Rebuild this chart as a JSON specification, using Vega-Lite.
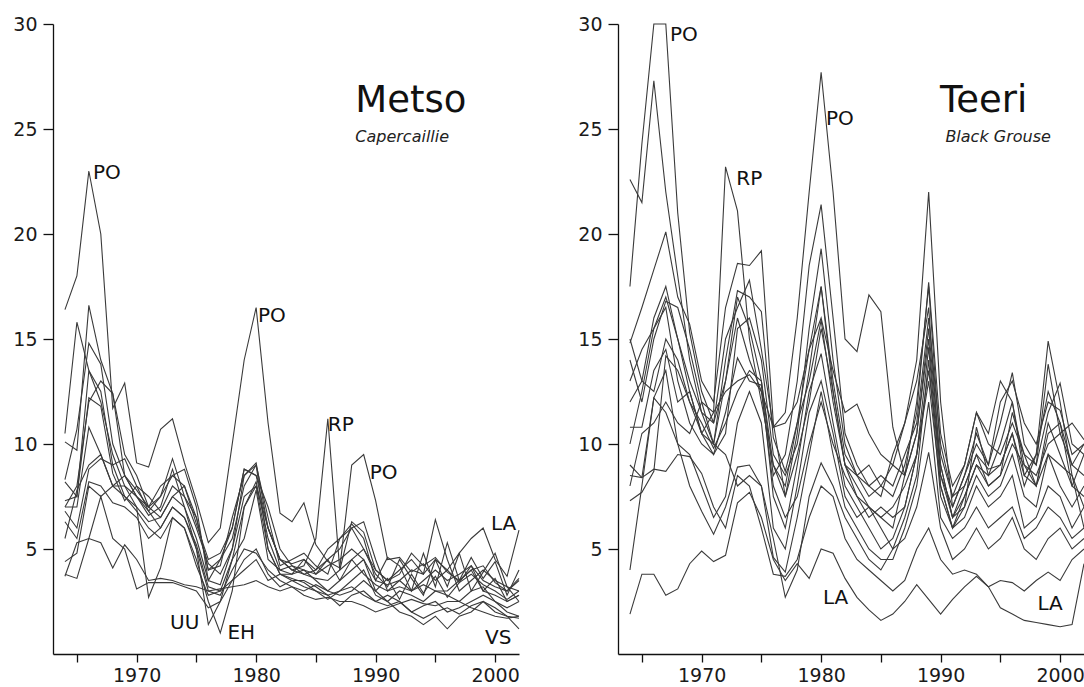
{
"$schema": "https://vega.github.io/schema/vega-lite/v6.json",
"background": "white",
"padding": {"left": 12, "top": 15, "right": 0, "bottom": 0},
"config": {
  "view": {"stroke": null},
  "concat": {"spacing": 55},
  "axis": {"grid": false, "title": null, "domainColor": "#111", "tickColor": "#111", "domainWidth": 1.3, "tickWidth": 1.3, "labelColor": "#1a1a1a", "labelFont": "DejaVu Sans", "labelFontSize": 19}
},
"datasets": {
"metso": [
{"s":"PO","t":1964,"v":16.4},{"s":"PO","t":1965,"v":18.0},{"s":"PO","t":1966,"v":23.0},{"s":"PO","t":1967,"v":20.0},{"s":"PO","t":1968,"v":11.7},{"s":"PO","t":1969,"v":12.9},{"s":"PO","t":1970,"v":9.1},{"s":"PO","t":1971,"v":8.9},{"s":"PO","t":1972,"v":10.7},{"s":"PO","t":1973,"v":11.2},{"s":"PO","t":1974,"v":9.1},{"s":"PO","t":1975,"v":7.3},{"s":"PO","t":1976,"v":5.3},{"s":"PO","t":1977,"v":6.0},{"s":"PO","t":1978,"v":10.0},{"s":"PO","t":1979,"v":14.0},{"s":"PO","t":1980,"v":16.5},{"s":"PO","t":1981,"v":11.0},{"s":"PO","t":1982,"v":6.7},{"s":"PO","t":1983,"v":6.3},{"s":"PO","t":1984,"v":7.2},{"s":"PO","t":1985,"v":5.2},{"s":"PO","t":1986,"v":4.4},{"s":"PO","t":1987,"v":4.1},{"s":"PO","t":1988,"v":9.0},{"s":"PO","t":1989,"v":9.5},{"s":"PO","t":1990,"v":7.3},{"s":"PO","t":1991,"v":4.5},{"s":"PO","t":1992,"v":4.6},{"s":"PO","t":1993,"v":3.9},{"s":"PO","t":1994,"v":4.3},{"s":"PO","t":1995,"v":3.5},{"s":"PO","t":1996,"v":4.0},{"s":"PO","t":1997,"v":3.4},{"s":"PO","t":1998,"v":3.8},{"s":"PO","t":1999,"v":3.3},{"s":"PO","t":2000,"v":3.0},{"s":"PO","t":2001,"v":2.6},{"s":"PO","t":2002,"v":3.0},
{"s":"RP","t":1964,"v":10.5},{"s":"RP","t":1965,"v":15.8},{"s":"RP","t":1966,"v":13.5},{"s":"RP","t":1967,"v":12.5},{"s":"RP","t":1968,"v":9.0},{"s":"RP","t":1969,"v":9.3},{"s":"RP","t":1970,"v":8.0},{"s":"RP","t":1971,"v":6.8},{"s":"RP","t":1972,"v":7.5},{"s":"RP","t":1973,"v":9.3},{"s":"RP","t":1974,"v":7.5},{"s":"RP","t":1975,"v":6.5},{"s":"RP","t":1976,"v":4.0},{"s":"RP","t":1977,"v":4.2},{"s":"RP","t":1978,"v":6.5},{"s":"RP","t":1979,"v":8.5},{"s":"RP","t":1980,"v":9.1},{"s":"RP","t":1981,"v":6.0},{"s":"RP","t":1982,"v":4.5},{"s":"RP","t":1983,"v":4.0},{"s":"RP","t":1984,"v":4.2},{"s":"RP","t":1985,"v":5.5},{"s":"RP","t":1986,"v":11.2},{"s":"RP","t":1987,"v":4.0},{"s":"RP","t":1988,"v":6.3},{"s":"RP","t":1989,"v":5.8},{"s":"RP","t":1990,"v":4.0},{"s":"RP","t":1991,"v":3.5},{"s":"RP","t":1992,"v":3.8},{"s":"RP","t":1993,"v":4.8},{"s":"RP","t":1994,"v":4.2},{"s":"RP","t":1995,"v":4.6},{"s":"RP","t":1996,"v":3.9},{"s":"RP","t":1997,"v":3.5},{"s":"RP","t":1998,"v":4.0},{"s":"RP","t":1999,"v":4.2},{"s":"RP","t":2000,"v":3.4},{"s":"RP","t":2001,"v":3.0},{"s":"RP","t":2002,"v":3.6},
{"s":"KA","t":1964,"v":10.1},{"s":"KA","t":1965,"v":9.7},{"s":"KA","t":1966,"v":16.6},{"s":"KA","t":1967,"v":14.0},{"s":"KA","t":1968,"v":12.4},{"s":"KA","t":1969,"v":9.5},{"s":"KA","t":1970,"v":8.5},{"s":"KA","t":1971,"v":7.0},{"s":"KA","t":1972,"v":8.0},{"s":"KA","t":1973,"v":8.5},{"s":"KA","t":1974,"v":8.0},{"s":"KA","t":1975,"v":6.2},{"s":"KA","t":1976,"v":4.5},{"s":"KA","t":1977,"v":4.8},{"s":"KA","t":1978,"v":6.0},{"s":"KA","t":1979,"v":8.8},{"s":"KA","t":1980,"v":8.5},{"s":"KA","t":1981,"v":7.0},{"s":"KA","t":1982,"v":5.0},{"s":"KA","t":1983,"v":4.2},{"s":"KA","t":1984,"v":4.0},{"s":"KA","t":1985,"v":3.8},{"s":"KA","t":1986,"v":4.5},{"s":"KA","t":1987,"v":5.0},{"s":"KA","t":1988,"v":6.0},{"s":"KA","t":1989,"v":6.3},{"s":"KA","t":1990,"v":4.5},{"s":"KA","t":1991,"v":3.0},{"s":"KA","t":1992,"v":3.5},{"s":"KA","t":1993,"v":4.0},{"s":"KA","t":1994,"v":3.8},{"s":"KA","t":1995,"v":6.4},{"s":"KA","t":1996,"v":4.5},{"s":"KA","t":1997,"v":3.0},{"s":"KA","t":1998,"v":3.5},{"s":"KA","t":1999,"v":4.0},{"s":"KA","t":2000,"v":3.5},{"s":"KA","t":2001,"v":3.2},{"s":"KA","t":2002,"v":2.5},
{"s":"KS","t":1964,"v":8.3},{"s":"KS","t":1965,"v":10.7},{"s":"KS","t":1966,"v":14.8},{"s":"KS","t":1967,"v":13.8},{"s":"KS","t":1968,"v":10.0},{"s":"KS","t":1969,"v":8.5},{"s":"KS","t":1970,"v":7.5},{"s":"KS","t":1971,"v":6.6},{"s":"KS","t":1972,"v":7.0},{"s":"KS","t":1973,"v":8.8},{"s":"KS","t":1974,"v":7.0},{"s":"KS","t":1975,"v":5.5},{"s":"KS","t":1976,"v":3.5},{"s":"KS","t":1977,"v":4.5},{"s":"KS","t":1978,"v":5.5},{"s":"KS","t":1979,"v":8.0},{"s":"KS","t":1980,"v":9.0},{"s":"KS","t":1981,"v":6.5},{"s":"KS","t":1982,"v":4.2},{"s":"KS","t":1983,"v":4.5},{"s":"KS","t":1984,"v":4.8},{"s":"KS","t":1985,"v":4.2},{"s":"KS","t":1986,"v":3.8},{"s":"KS","t":1987,"v":5.5},{"s":"KS","t":1988,"v":6.2},{"s":"KS","t":1989,"v":5.5},{"s":"KS","t":1990,"v":3.5},{"s":"KS","t":1991,"v":4.6},{"s":"KS","t":1992,"v":4.2},{"s":"KS","t":1993,"v":3.0},{"s":"KS","t":1994,"v":4.8},{"s":"KS","t":1995,"v":3.2},{"s":"KS","t":1996,"v":5.3},{"s":"KS","t":1997,"v":3.5},{"s":"KS","t":1998,"v":4.6},{"s":"KS","t":1999,"v":3.6},{"s":"KS","t":2000,"v":4.4},{"s":"KS","t":2001,"v":2.8},{"s":"KS","t":2002,"v":4.0},
{"s":"LA","t":1964,"v":7.3},{"s":"LA","t":1965,"v":7.5},{"s":"LA","t":1966,"v":12.2},{"s":"LA","t":1967,"v":11.8},{"s":"LA","t":1968,"v":8.6},{"s":"LA","t":1969,"v":7.3},{"s":"LA","t":1970,"v":8.0},{"s":"LA","t":1971,"v":7.5},{"s":"LA","t":1972,"v":6.8},{"s":"LA","t":1973,"v":8.0},{"s":"LA","t":1974,"v":7.5},{"s":"LA","t":1975,"v":6.0},{"s":"LA","t":1976,"v":4.3},{"s":"LA","t":1977,"v":3.8},{"s":"LA","t":1978,"v":5.0},{"s":"LA","t":1979,"v":7.5},{"s":"LA","t":1980,"v":8.0},{"s":"LA","t":1981,"v":6.0},{"s":"LA","t":1982,"v":4.5},{"s":"LA","t":1983,"v":4.0},{"s":"LA","t":1984,"v":3.8},{"s":"LA","t":1985,"v":4.0},{"s":"LA","t":1986,"v":4.5},{"s":"LA","t":1987,"v":3.5},{"s":"LA","t":1988,"v":4.5},{"s":"LA","t":1989,"v":5.0},{"s":"LA","t":1990,"v":4.0},{"s":"LA","t":1991,"v":3.5},{"s":"LA","t":1992,"v":4.0},{"s":"LA","t":1993,"v":4.5},{"s":"LA","t":1994,"v":3.8},{"s":"LA","t":1995,"v":4.5},{"s":"LA","t":1996,"v":4.0},{"s":"LA","t":1997,"v":4.8},{"s":"LA","t":1998,"v":5.5},{"s":"LA","t":1999,"v":6.0},{"s":"LA","t":2000,"v":4.5},{"s":"LA","t":2001,"v":3.7},{"s":"LA","t":2002,"v":5.9},
{"s":"UU","t":1964,"v":7.0},{"s":"UU","t":1965,"v":7.0},{"s":"UU","t":1966,"v":10.8},{"s":"UU","t":1967,"v":9.5},{"s":"UU","t":1968,"v":8.0},{"s":"UU","t":1969,"v":8.0},{"s":"UU","t":1970,"v":7.0},{"s":"UU","t":1971,"v":6.3},{"s":"UU","t":1972,"v":6.5},{"s":"UU","t":1973,"v":7.5},{"s":"UU","t":1974,"v":7.0},{"s":"UU","t":1975,"v":5.0},{"s":"UU","t":1976,"v":1.4},{"s":"UU","t":1977,"v":2.5},{"s":"UU","t":1978,"v":4.5},{"s":"UU","t":1979,"v":7.0},{"s":"UU","t":1980,"v":8.2},{"s":"UU","t":1981,"v":5.5},{"s":"UU","t":1982,"v":4.0},{"s":"UU","t":1983,"v":3.8},{"s":"UU","t":1984,"v":4.0},{"s":"UU","t":1985,"v":3.5},{"s":"UU","t":1986,"v":3.0},{"s":"UU","t":1987,"v":3.5},{"s":"UU","t":1988,"v":4.0},{"s":"UU","t":1989,"v":4.5},{"s":"UU","t":1990,"v":3.0},{"s":"UU","t":1991,"v":3.6},{"s":"UU","t":1992,"v":2.6},{"s":"UU","t":1993,"v":3.8},{"s":"UU","t":1994,"v":2.9},{"s":"UU","t":1995,"v":3.7},{"s":"UU","t":1996,"v":2.7},{"s":"UU","t":1997,"v":3.4},{"s":"UU","t":1998,"v":4.2},{"s":"UU","t":1999,"v":3.0},{"s":"UU","t":2000,"v":3.6},{"s":"UU","t":2001,"v":2.5},{"s":"UU","t":2002,"v":2.8},
{"s":"EH","t":1964,"v":6.8},{"s":"EH","t":1965,"v":6.0},{"s":"EH","t":1966,"v":8.8},{"s":"EH","t":1967,"v":9.3},{"s":"EH","t":1968,"v":9.0},{"s":"EH","t":1969,"v":7.5},{"s":"EH","t":1970,"v":6.8},{"s":"EH","t":1971,"v":6.0},{"s":"EH","t":1972,"v":5.5},{"s":"EH","t":1973,"v":6.5},{"s":"EH","t":1974,"v":6.0},{"s":"EH","t":1975,"v":4.5},{"s":"EH","t":1976,"v":2.5},{"s":"EH","t":1977,"v":1.0},{"s":"EH","t":1978,"v":3.0},{"s":"EH","t":1979,"v":7.0},{"s":"EH","t":1980,"v":8.0},{"s":"EH","t":1981,"v":5.0},{"s":"EH","t":1982,"v":3.8},{"s":"EH","t":1983,"v":3.5},{"s":"EH","t":1984,"v":3.2},{"s":"EH","t":1985,"v":3.0},{"s":"EH","t":1986,"v":2.8},{"s":"EH","t":1987,"v":3.0},{"s":"EH","t":1988,"v":3.5},{"s":"EH","t":1989,"v":4.0},{"s":"EH","t":1990,"v":2.8},{"s":"EH","t":1991,"v":2.5},{"s":"EH","t":1992,"v":3.0},{"s":"EH","t":1993,"v":2.8},{"s":"EH","t":1994,"v":2.5},{"s":"EH","t":1995,"v":3.0},{"s":"EH","t":1996,"v":2.8},{"s":"EH","t":1997,"v":2.5},{"s":"EH","t":1998,"v":3.0},{"s":"EH","t":1999,"v":3.2},{"s":"EH","t":2000,"v":2.5},{"s":"EH","t":2001,"v":2.2},{"s":"EH","t":2002,"v":2.5},
{"s":"VS","t":1964,"v":6.3},{"s":"VS","t":1965,"v":5.5},{"s":"VS","t":1966,"v":8.2},{"s":"VS","t":1967,"v":8.0},{"s":"VS","t":1968,"v":7.2},{"s":"VS","t":1969,"v":7.0},{"s":"VS","t":1970,"v":6.5},{"s":"VS","t":1971,"v":5.5},{"s":"VS","t":1972,"v":6.0},{"s":"VS","t":1973,"v":7.0},{"s":"VS","t":1974,"v":6.5},{"s":"VS","t":1975,"v":5.0},{"s":"VS","t":1976,"v":3.0},{"s":"VS","t":1977,"v":2.8},{"s":"VS","t":1978,"v":4.0},{"s":"VS","t":1979,"v":5.0},{"s":"VS","t":1980,"v":4.8},{"s":"VS","t":1981,"v":4.0},{"s":"VS","t":1982,"v":3.5},{"s":"VS","t":1983,"v":3.2},{"s":"VS","t":1984,"v":3.0},{"s":"VS","t":1985,"v":3.3},{"s":"VS","t":1986,"v":3.0},{"s":"VS","t":1987,"v":2.8},{"s":"VS","t":1988,"v":3.0},{"s":"VS","t":1989,"v":3.5},{"s":"VS","t":1990,"v":3.0},{"s":"VS","t":1991,"v":2.5},{"s":"VS","t":1992,"v":2.0},{"s":"VS","t":1993,"v":1.8},{"s":"VS","t":1994,"v":1.4},{"s":"VS","t":1995,"v":1.8},{"s":"VS","t":1996,"v":1.2},{"s":"VS","t":1997,"v":1.8},{"s":"VS","t":1998,"v":2.0},{"s":"VS","t":1999,"v":2.5},{"s":"VS","t":2000,"v":2.2},{"s":"VS","t":2001,"v":1.8},{"s":"VS","t":2002,"v":1.2},
{"s":"SA","t":1964,"v":4.4},{"s":"SA","t":1965,"v":4.8},{"s":"SA","t":1966,"v":8.0},{"s":"SA","t":1967,"v":7.5},{"s":"SA","t":1968,"v":8.0},{"s":"SA","t":1969,"v":7.5},{"s":"SA","t":1970,"v":7.0},{"s":"SA","t":1971,"v":2.7},{"s":"SA","t":1972,"v":4.1},{"s":"SA","t":1973,"v":6.5},{"s":"SA","t":1974,"v":6.0},{"s":"SA","t":1975,"v":4.2},{"s":"SA","t":1976,"v":2.8},{"s":"SA","t":1977,"v":3.0},{"s":"SA","t":1978,"v":3.5},{"s":"SA","t":1979,"v":4.5},{"s":"SA","t":1980,"v":5.0},{"s":"SA","t":1981,"v":3.8},{"s":"SA","t":1982,"v":3.2},{"s":"SA","t":1983,"v":3.5},{"s":"SA","t":1984,"v":3.5},{"s":"SA","t":1985,"v":3.2},{"s":"SA","t":1986,"v":2.8},{"s":"SA","t":1987,"v":2.3},{"s":"SA","t":1988,"v":2.8},{"s":"SA","t":1989,"v":3.0},{"s":"SA","t":1990,"v":2.5},{"s":"SA","t":1991,"v":2.8},{"s":"SA","t":1992,"v":2.5},{"s":"SA","t":1993,"v":2.0},{"s":"SA","t":1994,"v":2.3},{"s":"SA","t":1995,"v":2.5},{"s":"SA","t":1996,"v":2.0},{"s":"SA","t":1997,"v":2.2},{"s":"SA","t":1998,"v":2.5},{"s":"SA","t":1999,"v":2.8},{"s":"SA","t":2000,"v":2.5},{"s":"SA","t":2001,"v":2.0},{"s":"SA","t":2002,"v":1.8},
{"s":"KY","t":1964,"v":3.8},{"s":"KY","t":1965,"v":3.6},{"s":"KY","t":1966,"v":5.5},{"s":"KY","t":1967,"v":7.5},{"s":"KY","t":1968,"v":5.5},{"s":"KY","t":1969,"v":5.0},{"s":"KY","t":1970,"v":3.1},{"s":"KY","t":1971,"v":3.4},{"s":"KY","t":1972,"v":3.4},{"s":"KY","t":1973,"v":3.4},{"s":"KY","t":1974,"v":3.2},{"s":"KY","t":1975,"v":3.0},{"s":"KY","t":1976,"v":2.2},{"s":"KY","t":1977,"v":2.5},{"s":"KY","t":1978,"v":3.5},{"s":"KY","t":1979,"v":4.0},{"s":"KY","t":1980,"v":4.5},{"s":"KY","t":1981,"v":3.5},{"s":"KY","t":1982,"v":3.8},{"s":"KY","t":1983,"v":3.6},{"s":"KY","t":1984,"v":3.4},{"s":"KY","t":1985,"v":3.0},{"s":"KY","t":1986,"v":2.6},{"s":"KY","t":1987,"v":3.0},{"s":"KY","t":1988,"v":3.2},{"s":"KY","t":1989,"v":2.8},{"s":"KY","t":1990,"v":2.5},{"s":"KY","t":1991,"v":2.3},{"s":"KY","t":1992,"v":2.5},{"s":"KY","t":1993,"v":2.0},{"s":"KY","t":1994,"v":1.7},{"s":"KY","t":1995,"v":2.0},{"s":"KY","t":1996,"v":2.2},{"s":"KY","t":1997,"v":1.9},{"s":"KY","t":1998,"v":2.3},{"s":"KY","t":1999,"v":2.5},{"s":"KY","t":2000,"v":2.0},{"s":"KY","t":2001,"v":1.8},{"s":"KY","t":2002,"v":1.7},
{"s":"ES","t":1964,"v":3.7},{"s":"ES","t":1965,"v":5.3},{"s":"ES","t":1966,"v":5.5},{"s":"ES","t":1967,"v":5.3},{"s":"ES","t":1968,"v":4.1},{"s":"ES","t":1969,"v":5.2},{"s":"ES","t":1970,"v":4.5},{"s":"ES","t":1971,"v":3.5},{"s":"ES","t":1972,"v":3.6},{"s":"ES","t":1973,"v":3.5},{"s":"ES","t":1974,"v":3.3},{"s":"ES","t":1975,"v":3.2},{"s":"ES","t":1976,"v":3.0},{"s":"ES","t":1977,"v":3.1},{"s":"ES","t":1978,"v":3.2},{"s":"ES","t":1979,"v":3.3},{"s":"ES","t":1980,"v":3.5},{"s":"ES","t":1981,"v":3.2},{"s":"ES","t":1982,"v":3.0},{"s":"ES","t":1983,"v":3.2},{"s":"ES","t":1984,"v":2.8},{"s":"ES","t":1985,"v":2.6},{"s":"ES","t":1986,"v":2.7},{"s":"ES","t":1987,"v":2.5},{"s":"ES","t":1988,"v":2.5},{"s":"ES","t":1989,"v":2.3},{"s":"ES","t":1990,"v":2.0},{"s":"ES","t":1991,"v":2.2},{"s":"ES","t":1992,"v":2.4},{"s":"ES","t":1993,"v":2.6},{"s":"ES","t":1994,"v":2.4},{"s":"ES","t":1995,"v":2.3},{"s":"ES","t":1996,"v":2.5},{"s":"ES","t":1997,"v":2.5},{"s":"ES","t":1998,"v":2.2},{"s":"ES","t":1999,"v":2.0},{"s":"ES","t":2000,"v":1.8},{"s":"ES","t":2001,"v":1.7},{"s":"ES","t":2002,"v":1.8},
{"s":"PS","t":1964,"v":7.0},{"s":"PS","t":1965,"v":8.0},{"s":"PS","t":1966,"v":12.0},{"s":"PS","t":1967,"v":13.0},{"s":"PS","t":1968,"v":12.4},{"s":"PS","t":1969,"v":8.5},{"s":"PS","t":1970,"v":7.8},{"s":"PS","t":1971,"v":7.0},{"s":"PS","t":1972,"v":7.5},{"s":"PS","t":1973,"v":8.5},{"s":"PS","t":1974,"v":8.8},{"s":"PS","t":1975,"v":7.0},{"s":"PS","t":1976,"v":3.5},{"s":"PS","t":1977,"v":3.3},{"s":"PS","t":1978,"v":5.0},{"s":"PS","t":1979,"v":8.5},{"s":"PS","t":1980,"v":9.0},{"s":"PS","t":1981,"v":5.0},{"s":"PS","t":1982,"v":3.8},{"s":"PS","t":1983,"v":3.8},{"s":"PS","t":1984,"v":4.5},{"s":"PS","t":1985,"v":3.8},{"s":"PS","t":1986,"v":4.2},{"s":"PS","t":1987,"v":4.5},{"s":"PS","t":1988,"v":5.0},{"s":"PS","t":1989,"v":4.5},{"s":"PS","t":1990,"v":3.5},{"s":"PS","t":1991,"v":3.3},{"s":"PS","t":1992,"v":3.5},{"s":"PS","t":1993,"v":3.0},{"s":"PS","t":1994,"v":3.5},{"s":"PS","t":1995,"v":4.0},{"s":"PS","t":1996,"v":3.5},{"s":"PS","t":1997,"v":3.8},{"s":"PS","t":1998,"v":4.2},{"s":"PS","t":1999,"v":3.5},{"s":"PS","t":2000,"v":3.2},{"s":"PS","t":2001,"v":3.0},{"s":"PS","t":2002,"v":3.5},
{"s":"PK","t":1964,"v":8.2},{"s":"PK","t":1965,"v":7.5},{"s":"PK","t":1966,"v":13.5},{"s":"PK","t":1967,"v":12.0},{"s":"PK","t":1968,"v":9.5},{"s":"PK","t":1969,"v":8.0},{"s":"PK","t":1970,"v":7.5},{"s":"PK","t":1971,"v":7.0},{"s":"PK","t":1972,"v":6.5},{"s":"PK","t":1973,"v":7.5},{"s":"PK","t":1974,"v":8.0},{"s":"PK","t":1975,"v":6.5},{"s":"PK","t":1976,"v":4.0},{"s":"PK","t":1977,"v":4.5},{"s":"PK","t":1978,"v":6.0},{"s":"PK","t":1979,"v":8.8},{"s":"PK","t":1980,"v":8.5},{"s":"PK","t":1981,"v":6.0},{"s":"PK","t":1982,"v":4.5},{"s":"PK","t":1983,"v":4.3},{"s":"PK","t":1984,"v":4.5},{"s":"PK","t":1985,"v":4.0},{"s":"PK","t":1986,"v":5.0},{"s":"PK","t":1987,"v":5.5},{"s":"PK","t":1988,"v":6.0},{"s":"PK","t":1989,"v":5.0},{"s":"PK","t":1990,"v":3.8},{"s":"PK","t":1991,"v":3.2},{"s":"PK","t":1992,"v":4.5},{"s":"PK","t":1993,"v":3.6},{"s":"PK","t":1994,"v":2.8},{"s":"PK","t":1995,"v":4.5},{"s":"PK","t":1996,"v":3.2},{"s":"PK","t":1997,"v":4.8},{"s":"PK","t":1998,"v":3.0},{"s":"PK","t":1999,"v":3.9},{"s":"PK","t":2000,"v":4.8},{"s":"PK","t":2001,"v":3.2},{"s":"PK","t":2002,"v":3.0},
{"s":"PH","t":1964,"v":5.5},{"s":"PH","t":1965,"v":7.8},{"s":"PH","t":1966,"v":9.0},{"s":"PH","t":1967,"v":9.5},{"s":"PH","t":1968,"v":8.0},{"s":"PH","t":1969,"v":8.5},{"s":"PH","t":1970,"v":7.5},{"s":"PH","t":1971,"v":6.8},{"s":"PH","t":1972,"v":6.0},{"s":"PH","t":1973,"v":7.0},{"s":"PH","t":1974,"v":6.5},{"s":"PH","t":1975,"v":5.2},{"s":"PH","t":1976,"v":3.2},{"s":"PH","t":1977,"v":3.0},{"s":"PH","t":1978,"v":4.5},{"s":"PH","t":1979,"v":5.5},{"s":"PH","t":1980,"v":7.8},{"s":"PH","t":1981,"v":4.5},{"s":"PH","t":1982,"v":4.0},{"s":"PH","t":1983,"v":4.2},{"s":"PH","t":1984,"v":3.8},{"s":"PH","t":1985,"v":3.6},{"s":"PH","t":1986,"v":3.5},{"s":"PH","t":1987,"v":4.0},{"s":"PH","t":1988,"v":4.5},{"s":"PH","t":1989,"v":3.8},{"s":"PH","t":1990,"v":3.3},{"s":"PH","t":1991,"v":3.0},{"s":"PH","t":1992,"v":3.2},{"s":"PH","t":1993,"v":3.0},{"s":"PH","t":1994,"v":3.3},{"s":"PH","t":1995,"v":3.0},{"s":"PH","t":1996,"v":3.0},{"s":"PH","t":1997,"v":3.5},{"s":"PH","t":1998,"v":4.0},{"s":"PH","t":1999,"v":3.0},{"s":"PH","t":2000,"v":2.8},{"s":"PH","t":2001,"v":2.5},{"s":"PH","t":2002,"v":2.8}
],
"teeri": [
{"s":"PO","t":1964,"v":17.5},{"s":"PO","t":1965,"v":24.3},{"s":"PO","t":1966,"v":30},{"s":"PO","t":1967,"v":30},{"s":"PO","t":1968,"v":21.0},{"s":"PO","t":1969,"v":15.3},{"s":"PO","t":1970,"v":12.5},{"s":"PO","t":1971,"v":11.0},{"s":"PO","t":1972,"v":15.0},{"s":"PO","t":1973,"v":16.5},{"s":"PO","t":1974,"v":17.8},{"s":"PO","t":1975,"v":14.5},{"s":"PO","t":1976,"v":10.8},{"s":"PO","t":1977,"v":11.5},{"s":"PO","t":1978,"v":16.0},{"s":"PO","t":1979,"v":22.0},{"s":"PO","t":1980,"v":27.7},{"s":"PO","t":1981,"v":22.0},{"s":"PO","t":1982,"v":15.0},{"s":"PO","t":1983,"v":14.4},{"s":"PO","t":1984,"v":17.1},{"s":"PO","t":1985,"v":16.3},{"s":"PO","t":1986,"v":10.8},{"s":"PO","t":1987,"v":8.5},{"s":"PO","t":1988,"v":12.0},{"s":"PO","t":1989,"v":17.5},{"s":"PO","t":1990,"v":9.5},{"s":"PO","t":1991,"v":7.5},{"s":"PO","t":1992,"v":8.0},{"s":"PO","t":1993,"v":9.5},{"s":"PO","t":1994,"v":8.8},{"s":"PO","t":1995,"v":9.0},{"s":"PO","t":1996,"v":10.5},{"s":"PO","t":1997,"v":8.0},{"s":"PO","t":1998,"v":9.5},{"s":"PO","t":1999,"v":12.5},{"s":"PO","t":2000,"v":11.0},{"s":"PO","t":2001,"v":9.0},{"s":"PO","t":2002,"v":8.5},
{"s":"KA","t":1964,"v":22.6},{"s":"KA","t":1965,"v":21.5},{"s":"KA","t":1966,"v":27.3},{"s":"KA","t":1967,"v":22.0},{"s":"KA","t":1968,"v":18.0},{"s":"KA","t":1969,"v":14.0},{"s":"KA","t":1970,"v":11.5},{"s":"KA","t":1971,"v":10.0},{"s":"KA","t":1972,"v":13.0},{"s":"KA","t":1973,"v":17.0},{"s":"KA","t":1974,"v":15.5},{"s":"KA","t":1975,"v":13.0},{"s":"KA","t":1976,"v":8.5},{"s":"KA","t":1977,"v":9.5},{"s":"KA","t":1978,"v":13.0},{"s":"KA","t":1979,"v":18.5},{"s":"KA","t":1980,"v":21.4},{"s":"KA","t":1981,"v":16.0},{"s":"KA","t":1982,"v":10.5},{"s":"KA","t":1983,"v":9.0},{"s":"KA","t":1984,"v":8.0},{"s":"KA","t":1985,"v":7.5},{"s":"KA","t":1986,"v":9.5},{"s":"KA","t":1987,"v":11.0},{"s":"KA","t":1988,"v":14.0},{"s":"KA","t":1989,"v":22.0},{"s":"KA","t":1990,"v":12.0},{"s":"KA","t":1991,"v":7.0},{"s":"KA","t":1992,"v":8.5},{"s":"KA","t":1993,"v":10.5},{"s":"KA","t":1994,"v":9.0},{"s":"KA","t":1995,"v":11.0},{"s":"KA","t":1996,"v":13.4},{"s":"KA","t":1997,"v":10.0},{"s":"KA","t":1998,"v":9.0},{"s":"KA","t":1999,"v":11.5},{"s":"KA","t":2000,"v":12.9},{"s":"KA","t":2001,"v":10.0},{"s":"KA","t":2002,"v":9.5},
{"s":"RP","t":1964,"v":13.0},{"s":"RP","t":1965,"v":14.5},{"s":"RP","t":1966,"v":15.5},{"s":"RP","t":1967,"v":17.0},{"s":"RP","t":1968,"v":15.0},{"s":"RP","t":1969,"v":12.5},{"s":"RP","t":1970,"v":10.5},{"s":"RP","t":1971,"v":11.5},{"s":"RP","t":1972,"v":23.2},{"s":"RP","t":1973,"v":21.1},{"s":"RP","t":1974,"v":15.0},{"s":"RP","t":1975,"v":12.0},{"s":"RP","t":1976,"v":9.0},{"s":"RP","t":1977,"v":8.0},{"s":"RP","t":1978,"v":11.0},{"s":"RP","t":1979,"v":14.5},{"s":"RP","t":1980,"v":17.5},{"s":"RP","t":1981,"v":12.5},{"s":"RP","t":1982,"v":9.0},{"s":"RP","t":1983,"v":8.5},{"s":"RP","t":1984,"v":7.5},{"s":"RP","t":1985,"v":8.0},{"s":"RP","t":1986,"v":9.0},{"s":"RP","t":1987,"v":11.0},{"s":"RP","t":1988,"v":13.0},{"s":"RP","t":1989,"v":16.5},{"s":"RP","t":1990,"v":8.5},{"s":"RP","t":1991,"v":6.5},{"s":"RP","t":1992,"v":8.0},{"s":"RP","t":1993,"v":9.5},{"s":"RP","t":1994,"v":8.0},{"s":"RP","t":1995,"v":8.5},{"s":"RP","t":1996,"v":10.0},{"s":"RP","t":1997,"v":9.0},{"s":"RP","t":1998,"v":8.0},{"s":"RP","t":1999,"v":10.5},{"s":"RP","t":2000,"v":11.0},{"s":"RP","t":2001,"v":8.0},{"s":"RP","t":2002,"v":7.5},
{"s":"KS","t":1964,"v":14.8},{"s":"KS","t":1965,"v":16.5},{"s":"KS","t":1966,"v":18.3},{"s":"KS","t":1967,"v":20.1},{"s":"KS","t":1968,"v":17.0},{"s":"KS","t":1969,"v":15.7},{"s":"KS","t":1970,"v":13.0},{"s":"KS","t":1971,"v":12.0},{"s":"KS","t":1972,"v":16.5},{"s":"KS","t":1973,"v":18.6},{"s":"KS","t":1974,"v":18.5},{"s":"KS","t":1975,"v":19.2},{"s":"KS","t":1976,"v":11.0},{"s":"KS","t":1977,"v":7.5},{"s":"KS","t":1978,"v":10.5},{"s":"KS","t":1979,"v":15.5},{"s":"KS","t":1980,"v":19.3},{"s":"KS","t":1981,"v":14.0},{"s":"KS","t":1982,"v":10.0},{"s":"KS","t":1983,"v":8.5},{"s":"KS","t":1984,"v":9.0},{"s":"KS","t":1985,"v":8.0},{"s":"KS","t":1986,"v":7.5},{"s":"KS","t":1987,"v":9.0},{"s":"KS","t":1988,"v":11.5},{"s":"KS","t":1989,"v":17.7},{"s":"KS","t":1990,"v":10.5},{"s":"KS","t":1991,"v":8.0},{"s":"KS","t":1992,"v":9.0},{"s":"KS","t":1993,"v":11.5},{"s":"KS","t":1994,"v":10.0},{"s":"KS","t":1995,"v":9.5},{"s":"KS","t":1996,"v":11.0},{"s":"KS","t":1997,"v":9.5},{"s":"KS","t":1998,"v":9.0},{"s":"KS","t":1999,"v":13.8},{"s":"KS","t":2000,"v":10.5},{"s":"KS","t":2001,"v":9.0},{"s":"KS","t":2002,"v":10.0},
{"s":"PS","t":1964,"v":14.0},{"s":"PS","t":1965,"v":12.0},{"s":"PS","t":1966,"v":15.0},{"s":"PS","t":1967,"v":16.8},{"s":"PS","t":1968,"v":16.5},{"s":"PS","t":1969,"v":14.5},{"s":"PS","t":1970,"v":12.0},{"s":"PS","t":1971,"v":10.0},{"s":"PS","t":1972,"v":14.0},{"s":"PS","t":1973,"v":17.3},{"s":"PS","t":1974,"v":17.0},{"s":"PS","t":1975,"v":16.3},{"s":"PS","t":1976,"v":10.3},{"s":"PS","t":1977,"v":8.7},{"s":"PS","t":1978,"v":11.0},{"s":"PS","t":1979,"v":13.0},{"s":"PS","t":1980,"v":15.9},{"s":"PS","t":1981,"v":12.0},{"s":"PS","t":1982,"v":9.0},{"s":"PS","t":1983,"v":8.0},{"s":"PS","t":1984,"v":7.0},{"s":"PS","t":1985,"v":6.5},{"s":"PS","t":1986,"v":6.0},{"s":"PS","t":1987,"v":8.5},{"s":"PS","t":1988,"v":10.5},{"s":"PS","t":1989,"v":15.5},{"s":"PS","t":1990,"v":9.0},{"s":"PS","t":1991,"v":6.5},{"s":"PS","t":1992,"v":7.5},{"s":"PS","t":1993,"v":9.0},{"s":"PS","t":1994,"v":8.5},{"s":"PS","t":1995,"v":10.0},{"s":"PS","t":1996,"v":12.0},{"s":"PS","t":1997,"v":8.5},{"s":"PS","t":1998,"v":8.0},{"s":"PS","t":1999,"v":11.0},{"s":"PS","t":2000,"v":9.5},{"s":"PS","t":2001,"v":8.0},{"s":"PS","t":2002,"v":9.5},
{"s":"PK","t":1964,"v":10.8},{"s":"PK","t":1965,"v":10.8},{"s":"PK","t":1966,"v":13.5},{"s":"PK","t":1967,"v":14.5},{"s":"PK","t":1968,"v":12.0},{"s":"PK","t":1969,"v":12.5},{"s":"PK","t":1970,"v":10.5},{"s":"PK","t":1971,"v":9.5},{"s":"PK","t":1972,"v":11.5},{"s":"PK","t":1973,"v":14.1},{"s":"PK","t":1974,"v":13.0},{"s":"PK","t":1975,"v":12.8},{"s":"PK","t":1976,"v":7.5},{"s":"PK","t":1977,"v":6.0},{"s":"PK","t":1978,"v":9.0},{"s":"PK","t":1979,"v":12.5},{"s":"PK","t":1980,"v":14.3},{"s":"PK","t":1981,"v":11.0},{"s":"PK","t":1982,"v":8.0},{"s":"PK","t":1983,"v":7.0},{"s":"PK","t":1984,"v":6.0},{"s":"PK","t":1985,"v":5.0},{"s":"PK","t":1986,"v":5.5},{"s":"PK","t":1987,"v":7.0},{"s":"PK","t":1988,"v":9.5},{"s":"PK","t":1989,"v":14.6},{"s":"PK","t":1990,"v":8.0},{"s":"PK","t":1991,"v":6.0},{"s":"PK","t":1992,"v":7.0},{"s":"PK","t":1993,"v":8.5},{"s":"PK","t":1994,"v":7.5},{"s":"PK","t":1995,"v":8.0},{"s":"PK","t":1996,"v":9.5},{"s":"PK","t":1997,"v":7.5},{"s":"PK","t":1998,"v":7.0},{"s":"PK","t":1999,"v":9.5},{"s":"PK","t":2000,"v":8.0},{"s":"PK","t":2001,"v":7.0},{"s":"PK","t":2002,"v":8.0},
{"s":"ES","t":1964,"v":8.5},{"s":"ES","t":1965,"v":8.4},{"s":"ES","t":1966,"v":12.2},{"s":"ES","t":1967,"v":11.5},{"s":"ES","t":1968,"v":10.0},{"s":"ES","t":1969,"v":9.5},{"s":"ES","t":1970,"v":8.0},{"s":"ES","t":1971,"v":6.5},{"s":"ES","t":1972,"v":7.5},{"s":"ES","t":1973,"v":11.0},{"s":"ES","t":1974,"v":12.5},{"s":"ES","t":1975,"v":11.0},{"s":"ES","t":1976,"v":6.0},{"s":"ES","t":1977,"v":5.0},{"s":"ES","t":1978,"v":8.0},{"s":"ES","t":1979,"v":11.5},{"s":"ES","t":1980,"v":13.0},{"s":"ES","t":1981,"v":10.5},{"s":"ES","t":1982,"v":7.5},{"s":"ES","t":1983,"v":6.5},{"s":"ES","t":1984,"v":7.0},{"s":"ES","t":1985,"v":6.0},{"s":"ES","t":1986,"v":5.0},{"s":"ES","t":1987,"v":6.5},{"s":"ES","t":1988,"v":8.5},{"s":"ES","t":1989,"v":14.0},{"s":"ES","t":1990,"v":7.5},{"s":"ES","t":1991,"v":6.0},{"s":"ES","t":1992,"v":6.5},{"s":"ES","t":1993,"v":8.0},{"s":"ES","t":1994,"v":7.0},{"s":"ES","t":1995,"v":7.5},{"s":"ES","t":1996,"v":8.5},{"s":"ES","t":1997,"v":6.0},{"s":"ES","t":1998,"v":6.5},{"s":"ES","t":1999,"v":8.0},{"s":"ES","t":2000,"v":7.5},{"s":"ES","t":2001,"v":6.0},{"s":"ES","t":2002,"v":7.0},
{"s":"SA","t":1964,"v":7.3},{"s":"SA","t":1965,"v":7.7},{"s":"SA","t":1966,"v":8.7},{"s":"SA","t":1967,"v":14.2},{"s":"SA","t":1968,"v":13.5},{"s":"SA","t":1969,"v":12.0},{"s":"SA","t":1970,"v":10.5},{"s":"SA","t":1971,"v":10.0},{"s":"SA","t":1972,"v":9.5},{"s":"SA","t":1973,"v":8.0},{"s":"SA","t":1974,"v":8.5},{"s":"SA","t":1975,"v":8.0},{"s":"SA","t":1976,"v":4.6},{"s":"SA","t":1977,"v":3.9},{"s":"SA","t":1978,"v":6.5},{"s":"SA","t":1979,"v":9.5},{"s":"SA","t":1980,"v":12.5},{"s":"SA","t":1981,"v":9.5},{"s":"SA","t":1982,"v":7.0},{"s":"SA","t":1983,"v":6.0},{"s":"SA","t":1984,"v":5.0},{"s":"SA","t":1985,"v":4.5},{"s":"SA","t":1986,"v":4.5},{"s":"SA","t":1987,"v":6.0},{"s":"SA","t":1988,"v":8.0},{"s":"SA","t":1989,"v":12.0},{"s":"SA","t":1990,"v":6.5},{"s":"SA","t":1991,"v":5.5},{"s":"SA","t":1992,"v":6.0},{"s":"SA","t":1993,"v":7.0},{"s":"SA","t":1994,"v":6.0},{"s":"SA","t":1995,"v":6.5},{"s":"SA","t":1996,"v":7.0},{"s":"SA","t":1997,"v":5.5},{"s":"SA","t":1998,"v":6.0},{"s":"SA","t":1999,"v":7.0},{"s":"SA","t":2000,"v":6.5},{"s":"SA","t":2001,"v":5.5},{"s":"SA","t":2002,"v":6.0},
{"s":"EH","t":1964,"v":4.0},{"s":"EH","t":1965,"v":8.0},{"s":"EH","t":1966,"v":12.2},{"s":"EH","t":1967,"v":13.5},{"s":"EH","t":1968,"v":10.0},{"s":"EH","t":1969,"v":8.0},{"s":"EH","t":1970,"v":6.8},{"s":"EH","t":1971,"v":5.7},{"s":"EH","t":1972,"v":7.0},{"s":"EH","t":1973,"v":8.9},{"s":"EH","t":1974,"v":9.0},{"s":"EH","t":1975,"v":8.0},{"s":"EH","t":1976,"v":5.5},{"s":"EH","t":1977,"v":2.7},{"s":"EH","t":1978,"v":4.0},{"s":"EH","t":1979,"v":7.5},{"s":"EH","t":1980,"v":9.1},{"s":"EH","t":1981,"v":8.0},{"s":"EH","t":1982,"v":6.5},{"s":"EH","t":1983,"v":5.5},{"s":"EH","t":1984,"v":4.5},{"s":"EH","t":1985,"v":4.0},{"s":"EH","t":1986,"v":5.0},{"s":"EH","t":1987,"v":5.5},{"s":"EH","t":1988,"v":7.0},{"s":"EH","t":1989,"v":9.6},{"s":"EH","t":1990,"v":6.0},{"s":"EH","t":1991,"v":4.5},{"s":"EH","t":1992,"v":5.0},{"s":"EH","t":1993,"v":6.0},{"s":"EH","t":1994,"v":5.0},{"s":"EH","t":1995,"v":5.5},{"s":"EH","t":1996,"v":6.5},{"s":"EH","t":1997,"v":5.0},{"s":"EH","t":1998,"v":4.5},{"s":"EH","t":1999,"v":5.5},{"s":"EH","t":2000,"v":6.0},{"s":"EH","t":2001,"v":5.0},{"s":"EH","t":2002,"v":5.5},
{"s":"LA","t":1964,"v":1.9},{"s":"LA","t":1965,"v":3.8},{"s":"LA","t":1966,"v":3.8},{"s":"LA","t":1967,"v":2.8},{"s":"LA","t":1968,"v":3.1},{"s":"LA","t":1969,"v":4.3},{"s":"LA","t":1970,"v":4.9},{"s":"LA","t":1971,"v":4.4},{"s":"LA","t":1972,"v":4.7},{"s":"LA","t":1973,"v":7.2},{"s":"LA","t":1974,"v":7.7},{"s":"LA","t":1975,"v":6.5},{"s":"LA","t":1976,"v":4.5},{"s":"LA","t":1977,"v":3.5},{"s":"LA","t":1978,"v":4.3},{"s":"LA","t":1979,"v":3.6},{"s":"LA","t":1980,"v":5.0},{"s":"LA","t":1981,"v":4.8},{"s":"LA","t":1982,"v":3.6},{"s":"LA","t":1983,"v":2.7},{"s":"LA","t":1984,"v":2.1},{"s":"LA","t":1985,"v":1.6},{"s":"LA","t":1986,"v":1.9},{"s":"LA","t":1987,"v":2.5},{"s":"LA","t":1988,"v":3.3},{"s":"LA","t":1989,"v":2.6},{"s":"LA","t":1990,"v":1.9},{"s":"LA","t":1991,"v":2.6},{"s":"LA","t":1992,"v":3.2},{"s":"LA","t":1993,"v":3.7},{"s":"LA","t":1994,"v":3.2},{"s":"LA","t":1995,"v":2.2},{"s":"LA","t":1996,"v":1.9},{"s":"LA","t":1997,"v":1.6},{"s":"LA","t":1998,"v":1.5},{"s":"LA","t":1999,"v":1.4},{"s":"LA","t":2000,"v":1.3},{"s":"LA","t":2001,"v":1.4},{"s":"LA","t":2002,"v":4.3},
{"s":"UU","t":1964,"v":9.0},{"s":"UU","t":1965,"v":8.4},{"s":"UU","t":1966,"v":8.8},{"s":"UU","t":1967,"v":8.7},{"s":"UU","t":1968,"v":9.5},{"s":"UU","t":1969,"v":9.4},{"s":"UU","t":1970,"v":8.6},{"s":"UU","t":1971,"v":7.0},{"s":"UU","t":1972,"v":6.0},{"s":"UU","t":1973,"v":8.5},{"s":"UU","t":1974,"v":8.0},{"s":"UU","t":1975,"v":6.0},{"s":"UU","t":1976,"v":3.8},{"s":"UU","t":1977,"v":3.7},{"s":"UU","t":1978,"v":4.5},{"s":"UU","t":1979,"v":6.5},{"s":"UU","t":1980,"v":8.0},{"s":"UU","t":1981,"v":7.5},{"s":"UU","t":1982,"v":5.5},{"s":"UU","t":1983,"v":4.5},{"s":"UU","t":1984,"v":4.0},{"s":"UU","t":1985,"v":3.5},{"s":"UU","t":1986,"v":3.0},{"s":"UU","t":1987,"v":3.5},{"s":"UU","t":1988,"v":5.0},{"s":"UU","t":1989,"v":6.0},{"s":"UU","t":1990,"v":4.5},{"s":"UU","t":1991,"v":3.8},{"s":"UU","t":1992,"v":4.0},{"s":"UU","t":1993,"v":3.8},{"s":"UU","t":1994,"v":3.2},{"s":"UU","t":1995,"v":3.5},{"s":"UU","t":1996,"v":3.4},{"s":"UU","t":1997,"v":3.0},{"s":"UU","t":1998,"v":3.5},{"s":"UU","t":1999,"v":3.9},{"s":"UU","t":2000,"v":3.5},{"s":"UU","t":2001,"v":4.5},{"s":"UU","t":2002,"v":5.0},
{"s":"EP","t":1964,"v":12.0},{"s":"EP","t":1965,"v":13.0},{"s":"EP","t":1966,"v":16.0},{"s":"EP","t":1967,"v":17.5},{"s":"EP","t":1968,"v":15.0},{"s":"EP","t":1969,"v":13.0},{"s":"EP","t":1970,"v":11.5},{"s":"EP","t":1971,"v":11.0},{"s":"EP","t":1972,"v":13.0},{"s":"EP","t":1973,"v":16.0},{"s":"EP","t":1974,"v":14.0},{"s":"EP","t":1975,"v":12.5},{"s":"EP","t":1976,"v":10.8},{"s":"EP","t":1977,"v":11.0},{"s":"EP","t":1978,"v":12.0},{"s":"EP","t":1979,"v":14.5},{"s":"EP","t":1980,"v":16.0},{"s":"EP","t":1981,"v":13.5},{"s":"EP","t":1982,"v":11.5},{"s":"EP","t":1983,"v":11.9},{"s":"EP","t":1984,"v":10.5},{"s":"EP","t":1985,"v":9.5},{"s":"EP","t":1986,"v":9.0},{"s":"EP","t":1987,"v":8.5},{"s":"EP","t":1988,"v":10.5},{"s":"EP","t":1989,"v":15.0},{"s":"EP","t":1990,"v":8.5},{"s":"EP","t":1991,"v":7.0},{"s":"EP","t":1992,"v":8.5},{"s":"EP","t":1993,"v":10.0},{"s":"EP","t":1994,"v":9.0},{"s":"EP","t":1995,"v":12.0},{"s":"EP","t":1996,"v":13.0},{"s":"EP","t":1997,"v":11.0},{"s":"EP","t":1998,"v":10.0},{"s":"EP","t":1999,"v":12.0},{"s":"EP","t":2000,"v":11.6},{"s":"EP","t":2001,"v":9.5},{"s":"EP","t":2002,"v":10.0},
{"s":"KY","t":1964,"v":15.0},{"s":"KY","t":1965,"v":13.0},{"s":"KY","t":1966,"v":12.5},{"s":"KY","t":1967,"v":15.0},{"s":"KY","t":1968,"v":14.0},{"s":"KY","t":1969,"v":12.0},{"s":"KY","t":1970,"v":11.0},{"s":"KY","t":1971,"v":9.8},{"s":"KY","t":1972,"v":11.0},{"s":"KY","t":1973,"v":12.5},{"s":"KY","t":1974,"v":13.5},{"s":"KY","t":1975,"v":13.0},{"s":"KY","t":1976,"v":9.0},{"s":"KY","t":1977,"v":7.5},{"s":"KY","t":1978,"v":9.5},{"s":"KY","t":1979,"v":12.0},{"s":"KY","t":1980,"v":15.5},{"s":"KY","t":1981,"v":12.5},{"s":"KY","t":1982,"v":9.0},{"s":"KY","t":1983,"v":7.5},{"s":"KY","t":1984,"v":7.0},{"s":"KY","t":1985,"v":6.5},{"s":"KY","t":1986,"v":7.0},{"s":"KY","t":1987,"v":8.0},{"s":"KY","t":1988,"v":9.5},{"s":"KY","t":1989,"v":13.5},{"s":"KY","t":1990,"v":9.0},{"s":"KY","t":1991,"v":6.5},{"s":"KY","t":1992,"v":7.0},{"s":"KY","t":1993,"v":10.8},{"s":"KY","t":1994,"v":8.5},{"s":"KY","t":1995,"v":9.0},{"s":"KY","t":1996,"v":10.5},{"s":"KY","t":1997,"v":8.5},{"s":"KY","t":1998,"v":9.5},{"s":"KY","t":1999,"v":14.9},{"s":"KY","t":2000,"v":12.0},{"s":"KY","t":2001,"v":8.5},{"s":"KY","t":2002,"v":7.0},
{"s":"PH","t":1964,"v":8.0},{"s":"PH","t":1965,"v":10.5},{"s":"PH","t":1966,"v":11.0},{"s":"PH","t":1967,"v":12.0},{"s":"PH","t":1968,"v":11.0},{"s":"PH","t":1969,"v":10.5},{"s":"PH","t":1970,"v":12.0},{"s":"PH","t":1971,"v":11.5},{"s":"PH","t":1972,"v":12.5},{"s":"PH","t":1973,"v":13.0},{"s":"PH","t":1974,"v":13.3},{"s":"PH","t":1975,"v":12.5},{"s":"PH","t":1976,"v":8.0},{"s":"PH","t":1977,"v":6.5},{"s":"PH","t":1978,"v":7.5},{"s":"PH","t":1979,"v":10.0},{"s":"PH","t":1980,"v":12.0},{"s":"PH","t":1981,"v":10.0},{"s":"PH","t":1982,"v":8.5},{"s":"PH","t":1983,"v":7.5},{"s":"PH","t":1984,"v":6.5},{"s":"PH","t":1985,"v":7.0},{"s":"PH","t":1986,"v":6.5},{"s":"PH","t":1987,"v":7.0},{"s":"PH","t":1988,"v":9.5},{"s":"PH","t":1989,"v":13.0},{"s":"PH","t":1990,"v":8.0},{"s":"PH","t":1991,"v":6.0},{"s":"PH","t":1992,"v":7.5},{"s":"PH","t":1993,"v":9.0},{"s":"PH","t":1994,"v":8.0},{"s":"PH","t":1995,"v":8.5},{"s":"PH","t":1996,"v":11.5},{"s":"PH","t":1997,"v":9.5},{"s":"PH","t":1998,"v":8.0},{"s":"PH","t":1999,"v":9.5},{"s":"PH","t":2000,"v":9.0},{"s":"PH","t":2001,"v":8.5},{"s":"PH","t":2002,"v":6.0},
{"s":"VS","t":1964,"v":10.0},{"s":"VS","t":1965,"v":12.5},{"s":"VS","t":1966,"v":15.5},{"s":"VS","t":1967,"v":16.5},{"s":"VS","t":1968,"v":13.0},{"s":"VS","t":1969,"v":11.0},{"s":"VS","t":1970,"v":10.0},{"s":"VS","t":1971,"v":9.5},{"s":"VS","t":1972,"v":10.5},{"s":"VS","t":1973,"v":15.5},{"s":"VS","t":1974,"v":16.0},{"s":"VS","t":1975,"v":14.0},{"s":"VS","t":1976,"v":9.5},{"s":"VS","t":1977,"v":8.5},{"s":"VS","t":1978,"v":10.0},{"s":"VS","t":1979,"v":13.5},{"s":"VS","t":1980,"v":17.5},{"s":"VS","t":1981,"v":13.0},{"s":"VS","t":1982,"v":9.5},{"s":"VS","t":1983,"v":8.5},{"s":"VS","t":1984,"v":8.0},{"s":"VS","t":1985,"v":8.5},{"s":"VS","t":1986,"v":8.0},{"s":"VS","t":1987,"v":9.5},{"s":"VS","t":1988,"v":11.0},{"s":"VS","t":1989,"v":16.0},{"s":"VS","t":1990,"v":10.0},{"s":"VS","t":1991,"v":7.5},{"s":"VS","t":1992,"v":9.0},{"s":"VS","t":1993,"v":11.5},{"s":"VS","t":1994,"v":10.5},{"s":"VS","t":1995,"v":13.0},{"s":"VS","t":1996,"v":12.0},{"s":"VS","t":1997,"v":9.0},{"s":"VS","t":1998,"v":8.5},{"s":"VS","t":1999,"v":10.0},{"s":"VS","t":2000,"v":10.5},{"s":"VS","t":2001,"v":11.0},{"s":"VS","t":2002,"v":10.2}
],
"labels": [
{"p":"M","lab":"PO","t":1966.35,"v":22.9},
{"p":"M","lab":"PO","t":1980.15,"v":16.1},
{"p":"M","lab":"RP","t":1986.0,"v":10.9},
{"p":"M","lab":"PO","t":1989.5,"v":8.6},
{"p":"M","lab":"LA","t":1999.65,"v":6.2},
{"p":"M","lab":"VS","t":1999.15,"v":0.75},
{"p":"M","lab":"UU","t":1972.8,"v":1.5},
{"p":"M","lab":"EH","t":1977.6,"v":1.0},
{"p":"T","lab":"PO","t":1967.35,"v":29.5},
{"p":"T","lab":"RP","t":1972.9,"v":22.6},
{"p":"T","lab":"PO","t":1980.4,"v":25.5},
{"p":"T","lab":"LA","t":1980.15,"v":2.65},
{"p":"T","lab":"LA","t":1998.1,"v":2.4}
]
},
"hconcat": [
{
  "width": 466, "height": 630,
  "layer": [
    {"data": {"name": "metso"},
     "mark": {"type": "line", "stroke": "#3a3a3a", "strokeWidth": 1.1},
     "encoding": {
       "x": {"field": "t", "type": "quantitative", "scale": {"domain": [1963, 2002], "nice": false, "zero": false},
             "axis": {"values": [1965, 1970, 1975, 1980, 1985, 1990, 1995, 2000], "format": "d", "labelExpr": "datum.value % 10 === 0 ? datum.label : ''", "tickSize": 8, "labelPadding": 4}},
       "y": {"field": "v", "type": "quantitative", "scale": {"domain": [0, 30], "nice": false},
             "axis": {"values": [5, 10, 15, 20, 25, 30], "tickSize": 10, "labelPadding": 6}},
       "detail": {"field": "s"}}},
    {"data": {"name": "labels"}, "transform": [{"filter": "datum.p === 'M'"}],
     "mark": {"type": "text", "align": "left", "baseline": "middle", "font": "DejaVu Sans", "fontSize": 20, "color": "#111"},
     "encoding": {"x": {"field": "t", "type": "quantitative"}, "y": {"field": "v", "type": "quantitative"}, "text": {"field": "lab"}}},
    {"data": {"values": [{}]},
     "mark": {"type": "text", "align": "left", "baseline": "alphabetic", "font": "DejaVu Sans", "fontSize": 37, "color": "#111"},
     "encoding": {"x": {"datum": 1988.3}, "y": {"datum": 25.8}, "text": {"value": "Metso"}}},
    {"data": {"values": [{}]},
     "mark": {"type": "text", "align": "left", "baseline": "alphabetic", "font": "DejaVu Sans", "fontSize": 16, "fontStyle": "italic", "color": "#222"},
     "encoding": {"x": {"datum": 1988.3}, "y": {"datum": 24.4}, "text": {"value": "Capercaillie"}}}
  ]
},
{
  "width": 466, "height": 630,
  "layer": [
    {"data": {"name": "teeri"},
     "mark": {"type": "line", "stroke": "#3a3a3a", "strokeWidth": 1.1},
     "encoding": {
       "x": {"field": "t", "type": "quantitative", "scale": {"domain": [1963, 2002], "nice": false, "zero": false},
             "axis": {"values": [1965, 1970, 1975, 1980, 1985, 1990, 1995, 2000], "format": "d", "labelExpr": "datum.value % 10 === 0 ? datum.label : ''", "tickSize": 8, "labelPadding": 4}},
       "y": {"field": "v", "type": "quantitative", "scale": {"domain": [0, 30], "nice": false},
             "axis": {"values": [5, 10, 15, 20, 25, 30], "tickSize": 10, "labelPadding": 6}},
       "detail": {"field": "s"}}},
    {"data": {"name": "labels"}, "transform": [{"filter": "datum.p === 'T'"}],
     "mark": {"type": "text", "align": "left", "baseline": "middle", "font": "DejaVu Sans", "fontSize": 20, "color": "#111"},
     "encoding": {"x": {"field": "t", "type": "quantitative"}, "y": {"field": "v", "type": "quantitative"}, "text": {"field": "lab"}}},
    {"data": {"values": [{}]},
     "mark": {"type": "text", "align": "left", "baseline": "alphabetic", "font": "DejaVu Sans", "fontSize": 37, "color": "#111"},
     "encoding": {"x": {"datum": 1989.95}, "y": {"datum": 25.8}, "text": {"value": "Teeri"}}},
    {"data": {"values": [{}]},
     "mark": {"type": "text", "align": "left", "baseline": "alphabetic", "font": "DejaVu Sans", "fontSize": 16, "fontStyle": "italic", "color": "#222"},
     "encoding": {"x": {"datum": 1990.4}, "y": {"datum": 24.4}, "text": {"value": "Black Grouse"}}}
  ]
}
]
}
